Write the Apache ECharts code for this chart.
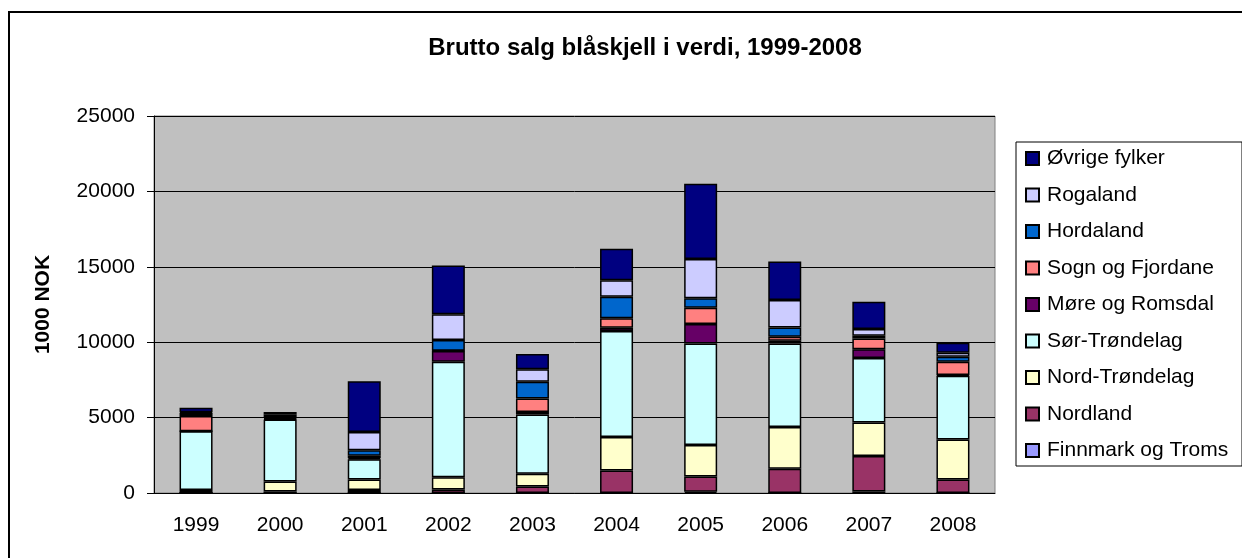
<!DOCTYPE html>
<html>
<head>
<meta charset="utf-8">
<script src="https://cdn.jsdelivr.net/npm/echarts@6/dist/echarts.min.js"></script>
<style>
  html, body { margin: 0; padding: 0; background: #fff; }
  #chart { width: 1242px; height: 558px; }
</style>
</head>
<body>
<div id="chart"></div>
<script>
// values in 1000 NOK
const years = ['1999', '2000', '2001', '2002', '2003', '2004', '2005', '2006', '2007', '2008']
const finnmarkTroms = [0, 0, 0, 0, 0, 0, 80, 0, 100, 0]
const nordland = [0, 100, 200, 230, 430, 1500, 1020, 1610, 2350, 900]
const nordTrondelag = [200, 660, 700, 820, 850, 2210, 2080, 2770, 2220, 2640]
const sorTrondelag = [3900, 4110, 1330, 7650, 3920, 7030, 6740, 5540, 4290, 4230]
const moreRomsdal = [0, 50, 80, 710, 170, 220, 1280, 170, 580, 50]
const sognFjordane = [1000, 50, 160, 30, 890, 620, 1090, 270, 710, 880]
const hordaland = [200, 50, 360, 700, 1110, 1430, 620, 620, 180, 330]
const rogaland = [50, 200, 1220, 1710, 840, 1090, 2610, 1820, 440, 270]
const ovrigeFylker = [300, 150, 3360, 3230, 1000, 2090, 4990, 2550, 1820, 660]
const yTicks = [0, 5000, 10000, 15000, 20000, 25000]

// bottom to top of each stack
const stackSeries = [
  { name: 'Finnmark og Troms', color: '#9999FF', data: finnmarkTroms },
  { name: 'Nordland', color: '#993366', data: nordland },
  { name: 'Nord-Trøndelag', color: '#FFFFCC', data: nordTrondelag },
  { name: 'Sør-Trøndelag', color: '#CCFFFF', data: sorTrondelag },
  { name: 'Møre og Romsdal', color: '#660066', data: moreRomsdal },
  { name: 'Sogn og Fjordane', color: '#FF8080', data: sognFjordane },
  { name: 'Hordaland', color: '#0066CC', data: hordaland },
  { name: 'Rogaland', color: '#CCCCFF', data: rogaland },
  { name: 'Øvrige fylker', color: '#000080', data: ovrigeFylker }
]

const font = '"Liberation Sans", Arial, sans-serif'

const chart = echarts.init(document.getElementById('chart'))
const options = {
  animation: false,
  title: {
    text: 'Brutto salg blåskjell i verdi, 1999-2008',
    left: 640,
    textAlign: 'center',
    top: 31,
    textStyle: { fontFamily: font, fontSize: 24, fontWeight: 'bold', color: '#000' }
  },
  graphic: [
    { // outer chart frame
      type: 'rect',
      shape: { x: 9, y: 12, width: 1300, height: 600 },
      style: { fill: 'none', stroke: '#000', lineWidth: 2 },
      silent: true
    },
    { // legend frame
      type: 'rect',
      shape: { x: 1016, y: 142, width: 226, height: 324 },
      style: { fill: '#fff', stroke: '#000', lineWidth: 1 },
      silent: true,
      z: -1
    }
  ],
  legend: {
    orient: 'vertical',
    left: 1016,
    top: 142,
    padding: [6, 4, 6, 9],
    itemGap: 15.5,
    itemWidth: 13,
    itemHeight: 13,
    icon: 'rect',
    selectedMode: false,
    data: stackSeries.map(s => s.name).reverse(),
    textStyle: { fontFamily: font, fontSize: 21, color: '#000', lineHeight: 21, padding: [0, 0, 0, 3] }
  },
  grid: {
    left: 154,
    right: 247,
    top: 116,
    bottom: 65,
    show: true,
    backgroundColor: '#C0C0C0',
    borderColor: '#808080',
    borderWidth: 1
  },
  xAxis: {
    type: 'category',
    data: years,
    axisLine: { lineStyle: { color: '#000', width: 1 } },
    axisTick: { length: 7, lineStyle: { color: '#000' } },
    axisLabel: { fontFamily: font, fontSize: 21, color: '#000', margin: 22 }
  },
  yAxis: {
    type: 'value',
    min: yTicks[0],
    max: yTicks[yTicks.length - 1],
    interval: yTicks[1] - yTicks[0],
    name: '1000 NOK',
    nameLocation: 'middle',
    nameGap: 100,
    nameTextStyle: { fontFamily: font, fontSize: 21, fontWeight: 'bold', color: '#000' },
    axisLine: { show: true, lineStyle: { color: '#000', width: 1 } },
    axisTick: { show: true, length: 7, lineStyle: { color: '#000' } },
    axisLabel: { fontFamily: font, fontSize: 21, color: '#000', margin: 19, formatter: v => String(v) },
    splitLine: { lineStyle: { color: '#000', width: 1 } }
  },
  series: stackSeries.map(s => ({
    name: s.name,
    type: 'bar',
    stack: 'total',
    barWidth: 33,
    data: s.data,
    itemStyle: { color: s.color, borderColor: '#000', borderWidth: 1.5 },
    emphasis: { disabled: true }
  }))
}
chart.setOption(options)
</script>
</body>
</html>
